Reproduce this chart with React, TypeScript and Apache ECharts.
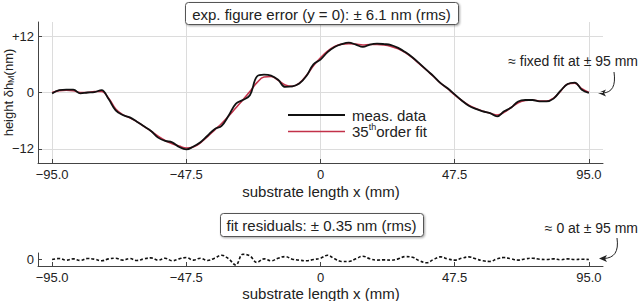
import React, { useEffect, useRef } from "react";
import * as echarts from "echarts";

const xs = [
  -95, -92.5, -90, -87.5, -85, -82.5, -80, -77.5, -75, -72.5, -70, -67.5, -65, -62.5, -60, -57.5,
  -55, -52.5, -50, -47.5, -45, -42.5, -40, -37.5, -35, -32.5, -30, -27.5, -25, -22.5, -20, -17.5,
  -15, -12.5, -10, -7.5, -5, -2.5, 0, 2.5, 5, 7.5, 10, 12.5, 15, 17.5, 20, 22.5, 25, 27.5, 30,
  32.5, 35, 37.5, 40, 42.5, 45, 47.5, 50, 52.5, 55, 57.5, 60, 62.5, 65, 67.5, 70, 72.5, 75, 77.5,
  80, 82.5, 85, 87.5, 90, 92.5, 95,
];

const measured = [
  -0.2, 0.5, 0.6, 0.6, -0.2, 0, 0.1, 0.5, -1.4, -3.8, -4.8, -5.3, -6.2, -7.2, -8.2, -9.6,
  -10.3, -10.6, -11.6, -12.1, -11.5, -10.6, -9.2, -7.8, -7.1, -4.9, -2.4, -1.6, -0.6, 3.4, 3.8, 3.6,
  2.7, 1.2, 1.3, 1.9, 3.5, 6.0, 7.0, 8.6, 9.7, 10.3, 10.6, 10.2, 9.7, 10.2, 10.4, 10.3, 10.1, 9.5, 8.6,
  7.5, 6.2, 4.8, 3.5, 2.0, 0.9, -0.4, -1.7, -2.8, -3.5, -4.0, -4.4, -5.1, -4.0, -3.2, -1.9, -1.6, -1.6, -1.9,
  -1.9, -1.3, 0.4, 1.8, 2.1, 0.6, -0.1,
];

const fit = [
  0, 0.4, 0.5, 0.4, 0.0, 0, 0.2, 0.2, -1.2, -3.5, -4.7, -5.4, -6.2, -7.2, -8.2, -9.3,
  -10.2, -10.9, -11.4, -11.8, -11.6, -10.7, -9.4, -8.0, -6.6, -5.0, -3.3, -1.6, 0.2, 2.1, 3.3, 3.4,
  2.6, 1.6, 1.3, 2.0, 3.6, 5.7, 7.4, 8.8, 9.8, 10.3, 10.4, 10.3, 10.1, 10.2, 10.2, 10.1, 9.8, 9.3, 8.5,
  7.4, 6.1, 4.8, 3.4, 2.0, 0.8, -0.5, -1.7, -2.7, -3.4, -4.0, -4.4, -4.8, -4.2, -3.2, -2.2, -1.7, -1.6, -1.8,
  -1.8, -1.2, 0.3, 1.8, 2.0, 0.8, 0,
];

const residuals = [
  0.0, 0.15, -0.1, 0.1, -0.15, 0.15, 0.05, -0.2, 0.1, 0.2, -0.1, 0.15, -0.15, 0.1, 0.25, -0.1,
  0.2, -0.2, 0.1, 0.3, -0.1, 0.2, -0.15, 0.2, 0.65, 0.1, -0.85, 0.8, 0.55, -0.45, 0.1, -0.2,
  0.2, 0.45, 0.05, -0.1, -0.2, 0.0, 0.2, 0.65, 0.1, -0.3, -0.3, 0.1, 0.5, 0.1, -0.1, -0.05, -0.1, 0.1, 0.45,
  0.35, -0.2, -0.5, 0.0, 0.4, 0.1, -0.1, 0.2, 0.4, 0.1, -0.2, -0.3, 0.1, 0.3, 0.1, -0.1, 0.1, 0.2, 0.05,
  0.0, 0.1, -0.05, 0.1, 0.0, 0.05, 0.0,
];

const xTicks = [-95, -47.5, 0, 47.5, 95];
const yTicks = [-12, 0, 12];
const yTicksBottom = [0];

const FONT = "Liberation Sans";
const TXT = "#222";
const AXIS = "#444";

const fmtX = (v: number) => (v === 0 ? "0" : (v < 0 ? "\u2212" : "") + Math.abs(v).toFixed(1));
const fmtY = (v: number) => (v === 0 ? "0" : v > 0 ? "+" + v : "\u2212" + Math.abs(v));

const txt = (x: number, y: number, text: string, size: number, align: string, extra: any = {}) => ({
  type: "text",
  x,
  y,
  z: 11,
  ...extra,
  style: {
    text,
    fontSize: size,
    fontFamily: FONT,
    fill: TXT,
    align,
    verticalAlign: "middle",
    ...(extra.style || {}),
  },
});

export default function App() {
  const ref = useRef<HTMLDivElement>(null);
  useEffect(() => {
    if (!ref.current) return;
    const chart = echarts.init(ref.current, null, { renderer: "svg" });
    const pair = (arr: number[]) => xs.map((x, i) => [x, arr[i]]);
    const xAxisCommon = (gridIndex: number, split: boolean) => ({
      type: "value",
      gridIndex,
      min: -100,
      max: 100,
      axisLine: { show: true, onZero: false, lineStyle: { color: AXIS, width: 1 } },
      axisTick: { show: true, inside: true, length: 4, customValues: xTicks, lineStyle: { color: AXIS } },
      axisLabel: {
        customValues: xTicks,
        formatter: fmtX,
        margin: 5,
        fontFamily: FONT,
        fontSize: 13,
        color: TXT,
      },
      splitLine: { show: split, lineStyle: { color: "#dcdcdc", width: 1 } },
    });
    chart.setOption({
      animation: false,
      grid: [
        { left: 38, right: 37, top: 22, bottom: 138, outerBoundsMode: "none", containLabel: false },
        { left: 38, right: 37, top: 253, bottom: 35, outerBoundsMode: "none", containLabel: false },
      ],
      xAxis: [xAxisCommon(0, true), xAxisCommon(1, false)],
      yAxis: [
        {
          type: "value",
          gridIndex: 0,
          min: -15,
          max: 15,
          name: "height \u03b4h{sub|M}(nm)",
          nameLocation: "middle",
          nameRotate: 90,
          nameGap: 23,
          nameMoveOverlap: false,
          nameTextStyle: {
            fontSize: 13,
            fontFamily: FONT,
            color: TXT,
            rich: {
              sub: { fontSize: 9, fontFamily: FONT, color: TXT, verticalAlign: "bottom", padding: [5, 0, 0, 0] },
            },
          },
          axisLine: { show: true, onZero: false, lineStyle: { color: AXIS, width: 1 } },
          axisTick: { show: true, inside: true, length: 4, customValues: yTicks, lineStyle: { color: AXIS } },
          axisLabel: {
            customValues: yTicks,
            formatter: fmtY,
            margin: 4,
            fontFamily: FONT,
            fontSize: 13,
            color: TXT,
          },
          splitLine: { show: true, lineStyle: { color: "#dcdcdc", width: 1 } },
        },
        {
          type: "value",
          gridIndex: 1,
          min: -1,
          max: 1,
          axisLine: { show: true, onZero: false, lineStyle: { color: AXIS, width: 1 } },
          axisTick: { show: true, inside: true, length: 4, customValues: yTicksBottom, lineStyle: { color: AXIS } },
          axisLabel: {
            customValues: yTicksBottom,
            formatter: fmtY,
            margin: 4,
            fontFamily: FONT,
            fontSize: 13,
            color: TXT,
          },
          splitLine: { show: false },
        },
      ],
      series: [
        {
          name: "fit",
          type: "line",
          xAxisIndex: 0,
          yAxisIndex: 0,
          data: pair(fit),
          smooth: 0.4,
          showSymbol: false,
          lineStyle: { color: "#c23149", width: 1.6 },
        },
        {
          name: "meas. data",
          type: "line",
          xAxisIndex: 0,
          yAxisIndex: 0,
          data: pair(measured),
          smooth: 0.4,
          showSymbol: false,
          lineStyle: { color: "#111", width: 1.8 },
        },
        {
          name: "residuals",
          type: "line",
          xAxisIndex: 1,
          yAxisIndex: 1,
          data: pair(residuals),
          smooth: 0.4,
          showSymbol: false,
          lineStyle: { color: "#111", width: 1.6, type: [3, 2] },
        },
      ],
      graphic: [
        txt(321, 191, "substrate length x (mm)", 15, "center"),
        txt(321, 293, "substrate length x (mm)", 15, "center"),
        {
          type: "rect",
          shape: { x: 185.5, y: 2.5, width: 273, height: 22, r: 3 },
          style: { fill: "#fff", stroke: "#555", lineWidth: 1, shadowBlur: 2, shadowOffsetX: 1, shadowOffsetY: 1, shadowColor: "rgba(0,0,0,0.35)" },
          z: 10,
        },
        txt(321.5, 14, "exp. figure error (y = 0): \u00b1 6.1 nm (rms)", 15, "center"),
        {
          type: "rect",
          shape: { x: 220.5, y: 213.5, width: 203, height: 23, r: 3 },
          style: { fill: "#fff", stroke: "#555", lineWidth: 1, shadowBlur: 2, shadowOffsetX: 1, shadowOffsetY: 1, shadowColor: "rgba(0,0,0,0.35)" },
          z: 10,
        },
        txt(321.5, 225.5, "fit residuals: \u00b1 0.35 nm (rms)", 15, "center"),
        { type: "line", shape: { x1: 288, y1: 115, x2: 345, y2: 115 }, style: { stroke: "#111", lineWidth: 1.8 }, z: 10 },
        { type: "line", shape: { x1: 288, y1: 131.5, x2: 345, y2: 131.5 }, style: { stroke: "#c23149", lineWidth: 1.6 }, z: 10 },
        txt(352, 115, "meas. data", 15, "left"),
        txt(352, 131.5, "{n|35}{sup|th}{n|order fit}", 15, "left", {
          style: {
            rich: {
              n: { fontSize: 15, fontFamily: FONT, fill: TXT, lineHeight: 18, verticalAlign: "middle" },
              sup: { fontSize: 9, fontFamily: FONT, fill: TXT, lineHeight: 18, verticalAlign: "top", padding: [0, 0, 4, 0] },
            },
          },
        }),
        txt(638, 61, "\u2248 fixed fit at \u00b1 95 mm", 14, "right"),
        {
          type: "bezierCurve",
          shape: { x1: 614, y1: 72, cpx1: 616, cpy1: 86, cpx2: 612, cpy2: 92.5, x2: 603, y2: 93 },
          style: { stroke: "#222", lineWidth: 1, fill: "none" },
        },
        { type: "polygon", shape: { points: [[598, 93], [606, 89.5], [604, 93], [606, 96.5]] }, style: { fill: "#222" } },
        txt(638, 227.5, "\u2248 0 at \u00b1 95 mm", 14, "right"),
        {
          type: "bezierCurve",
          shape: { x1: 617, y1: 238, cpx1: 619, cpy1: 252, cpx2: 614, cpy2: 258, x2: 604, y2: 258.5 },
          style: { stroke: "#222", lineWidth: 1, fill: "none" },
        },
        { type: "polygon", shape: { points: [[599, 258.5], [607, 255], [605, 258.5], [607, 262]] }, style: { fill: "#222" } },
      ],
    });
    return () => chart.dispose();
  }, []);
  return <div ref={ref} style={{ width: 640, height: 301, position: "absolute", left: 0, top: 0 }} />;
}
